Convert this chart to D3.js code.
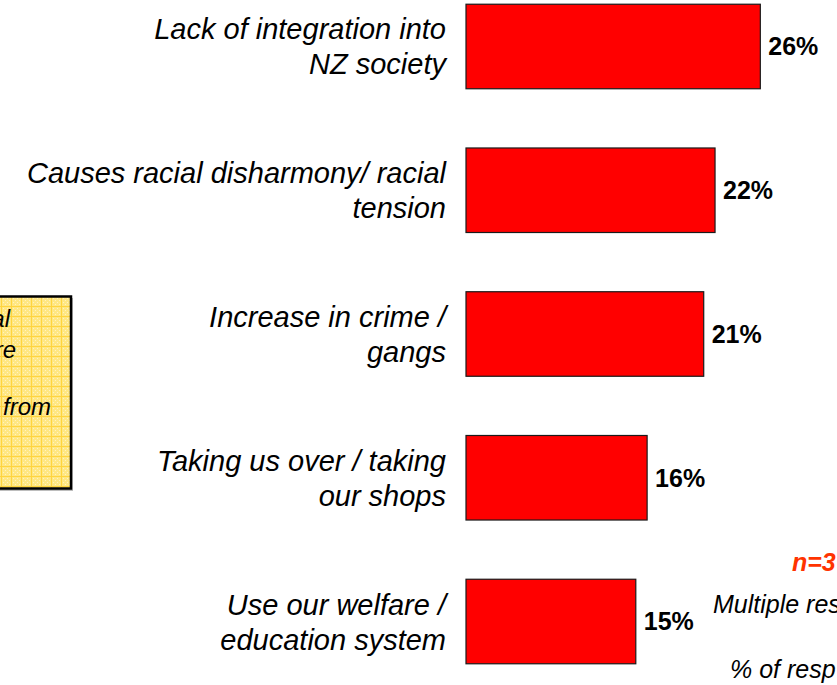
<!DOCTYPE html>
<html>
<head>
<meta charset="utf-8">
<script src="https://cdn.jsdelivr.net/npm/d3@7"></script>
<style>
  html, body { margin: 0; padding: 0; background: #fff; overflow: hidden; }
  svg { display: block; font-family: "Liberation Sans", Arial, Helvetica, sans-serif; }
</style>
</head>
<body>
<svg id="chart" width="837" height="685"></svg>
<script>
// ---- data ----
const categories = [
  "Lack of integration into NZ society",
  "Causes racial disharmony/ racial tension",
  "Increase in crime / gangs",
  "Taking us over / taking our shops",
  "Use our welfare / education system"
];
const labelLines = [
  ["Lack of integration into", "NZ society"],
  ["Causes racial disharmony/ racial", "tension"],
  ["Increase in crime /", "gangs"],
  ["Taking us over / taking", "our shops"],
  ["Use our welfare /", "education system"]
];
const values = [26, 22, 21, 16, 15];
const valueLabels = ["26%", "22%", "21%", "16%", "15%"];
const noteLines = ["al", "re", "from"];
const sampleText = "n=3";
const footLines = ["Multiple res", "% of resp"];

// ---- drawing ----
const W = 837, H = 685;
const svg = d3.select("#chart");

const x = d3.scaleLinear().domain([0, 30]).range([466, 466 + 339.6]);
const y = d3.scaleBand().domain(categories).range([-55, 723])
  .paddingInner(0.412).paddingOuter(0.412);

// yellow note box (mostly off-canvas on the left)
const defs = svg.append("defs");
const pat = defs.append("pattern").attr("id", "grid")
  .attr("patternUnits", "userSpaceOnUse").attr("width", 10).attr("height", 10)
  .attr("x", 1).attr("y", 296);
pat.append("rect").attr("width", 10).attr("height", 10).attr("fill", "#FFE783");
for (let i = 0; i < 10; i += 2) {
  for (let j = 0; j < 10; j += 2) {
    if ((i + j) % 4 === 0) pat.append("rect").attr("x", i).attr("y", j)
      .attr("width", 1).attr("height", 1).attr("fill", "#FFF3C0");
  }
}
pat.append("rect").attr("x", 0).attr("y", 0).attr("width", 10).attr("height", 1).attr("fill", "#FFD43E");
pat.append("rect").attr("x", 0).attr("y", 0).attr("width", 1).attr("height", 10).attr("fill", "#FFD43E");

svg.append("rect").attr("x", -200).attr("y", 298).attr("width", 273).attr("height", 193)
  .attr("fill", "#bdbdbd");
svg.append("rect").attr("x", -200).attr("y", 296.5).attr("width", 271).attr("height", 192)
  .attr("fill", "url(#grid)").attr("stroke", "#000").attr("stroke-width", 2.5);

const noteEnds = [10, 16, 51];
const noteBase = [327, 358, 415];
svg.append("g").selectAll("text").data(noteLines).join("text")
  .attr("x", (d, i) => noteEnds[i]).attr("y", (d, i) => noteBase[i])
  .attr("text-anchor", "end").attr("font-style", "italic").attr("font-size", 24)
  .attr("fill", "#000").text(d => d);

// bars
svg.append("g").selectAll("rect").data(values).join("rect")
  .attr("x", x(0))
  .attr("y", (d, i) => y(categories[i]))
  .attr("width", d => x(d) - x(0))
  .attr("height", y.bandwidth())
  .attr("fill", "#FF0000")
  .attr("stroke", "#1a1a1a").attr("stroke-width", 1.2);

// value labels
svg.append("g").selectAll("text").data(values).join("text")
  .attr("x", d => x(d) + 8)
  .attr("y", (d, i) => y(categories[i]) + y.bandwidth() / 2)
  .attr("dy", "0.35em")
  .attr("font-weight", "bold").attr("font-size", 25).attr("fill", "#000")
  .text((d, i) => valueLabels[i]);

// category labels
const lab = svg.append("g").selectAll("text").data(labelLines).join("text")
  .attr("text-anchor", "end").attr("font-style", "italic").attr("font-size", 29)
  .attr("fill", "#000");
lab.each(function(lines, i) {
  const cy = y(categories[i]) + y.bandwidth() / 2;
  d3.select(this).selectAll("tspan").data(lines).join("tspan")
    .attr("x", 446).attr("y", (d, k) => cy - 7 + k * 35).text(d => d);
});

// right-side notes
svg.append("text").attr("x", 792).attr("y", 571)
  .attr("font-weight", "bold").attr("font-style", "italic").attr("font-size", 25)
  .attr("fill", "#FF3300").text(sampleText);
svg.append("text").attr("x", 713).attr("y", 613)
  .attr("font-style", "italic").attr("font-size", 25).attr("fill", "#000").text(footLines[0]);
svg.append("text").attr("x", 730).attr("y", 678)
  .attr("font-style", "italic").attr("font-size", 25).attr("fill", "#000").text(footLines[1]);
</script>
</body>
</html>
